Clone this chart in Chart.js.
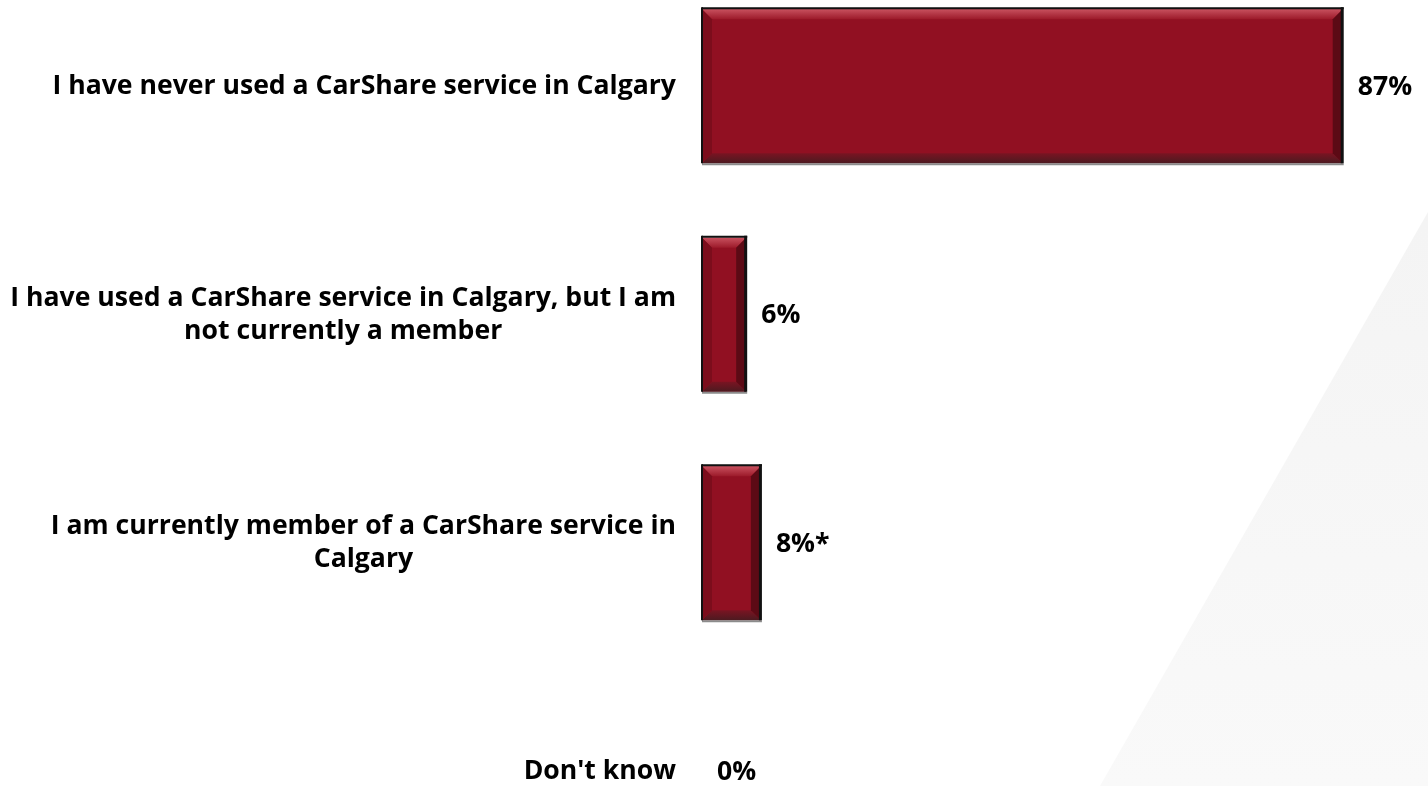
<!DOCTYPE html>
<html>
<head>
<meta charset="utf-8">
<script src="https://cdn.jsdelivr.net/npm/chart.js@4"></script>
<style>
    html, body { margin: 0; padding: 0; background: #fff; overflow: hidden; }
    body { width: 1428px; height: 786px; position: relative; }
    .backdrop {
        position: absolute; left: 0; top: 0; width: 1428px; height: 786px;
        background: linear-gradient(#f2f2f2, #f9f9f9);
        clip-path: polygon(1428px 212px, 1428px 786px, 1100px 786px);
    }
    .chart-box { position: absolute; left: 0; top: -28px; width: 1428px; height: 914px; }
</style>
</head>
<body>
<div class="backdrop"></div>
<div class="chart-box"><canvas id="usage-chart"></canvas></div>
<script>
const categories = [
    ['I have never used a CarShare service in Calgary'],
    ['I have used a CarShare service in Calgary, but I am', 'not currently a member'],
    ['I am currently member of a CarShare service in', 'Calgary'],
    ["Don't know"]
];
const percentages = [87, 6, 8, 0];
const notes = ['', '', '*', ''];

const labelFont = 'bold 26.6px "Open Sans"';
const lineHeight = 33;

// bevelled look on each bar, drawn over the flat fill
const bevelBars = {
    id: 'bevelBars',
    afterDatasetsDraw(chart) {
        const ctx = chart.ctx;
        const meta = chart.getDatasetMeta(0);
        meta.data.forEach(bar => {
            const { x, y, base, height } = bar.getProps(['x', 'y', 'base', 'height']);
            const w = x - base;
            if (w < 1) return;
            const top = y - height / 2, bottom = y + height / 2;
            const left = base, right = x;
            const d = Math.min(10, w / 2);
            ctx.save();
            // top band
            let g = ctx.createLinearGradient(0, top, 0, top + d);
            g.addColorStop(0, '#c8505e');
            g.addColorStop(1, '#9c1a2a');
            ctx.fillStyle = g;
            ctx.beginPath();
            ctx.moveTo(left, top); ctx.lineTo(right, top);
            ctx.lineTo(right - d, top + d); ctx.lineTo(left + d, top + d);
            ctx.closePath(); ctx.fill();
            // bottom band
            g = ctx.createLinearGradient(0, bottom - d, 0, bottom);
            g.addColorStop(0, '#7a1422');
            g.addColorStop(1, '#4c1a20');
            ctx.fillStyle = g;
            ctx.beginPath();
            ctx.moveTo(left, bottom); ctx.lineTo(right, bottom);
            ctx.lineTo(right - d, bottom - d); ctx.lineTo(left + d, bottom - d);
            ctx.closePath(); ctx.fill();
            // left band
            ctx.fillStyle = '#7c0d1c';
            ctx.beginPath();
            ctx.moveTo(left, top); ctx.lineTo(left + d, top + d);
            ctx.lineTo(left + d, bottom - d); ctx.lineTo(left, bottom);
            ctx.closePath(); ctx.fill();
            // right band
            ctx.fillStyle = '#5c0a15';
            ctx.beginPath();
            ctx.moveTo(right, top); ctx.lineTo(right - d, top + d);
            ctx.lineTo(right - d, bottom - d); ctx.lineTo(right, bottom);
            ctx.closePath(); ctx.fill();
            // dark outline and soft shadow under the bar
            ctx.fillStyle = '#8c8c8c';
            ctx.fillRect(left, bottom, w + 1, 2);
            ctx.fillStyle = '#111';
            ctx.fillRect(left, top - 2, w + 1, 2);
            ctx.fillRect(left - 1, top - 2, 2, height + 2);
            ctx.fillRect(right - 2, top - 2, 3, height + 2);
            ctx.restore();
        });
    }
};

// category labels left of the bars and value labels after them
const textLabels = {
    id: 'textLabels',
    afterDraw(chart) {
        const ctx = chart.ctx;
        const yScale = chart.scales.y;
        const meta = chart.getDatasetMeta(0);
        ctx.save();
        ctx.font = labelFont;
        ctx.fillStyle = '#000';
        ctx.textBaseline = 'middle';
        ctx.textAlign = 'center';
        const rightEdge = chart.chartArea.left - 26;
        categories.forEach((lines, i) => {
            const cy = yScale.getPixelForTick(i);
            const maxW = Math.max(...lines.map(l => ctx.measureText(l).width));
            const cx = rightEdge - maxW / 2;
            const startY = cy - (lines.length - 1) * lineHeight / 2;
            lines.forEach((l, j) => ctx.fillText(l, cx, startY + j * lineHeight));
        });
        ctx.textAlign = 'left';
        meta.data.forEach((bar, i) => {
            ctx.fillText(percentages[i] + '%' + notes[i], bar.x + 15, bar.y + 1);
        });
        ctx.restore();
    }
};

new Chart(document.getElementById('usage-chart'), {
    type: 'bar',
    data: {
        labels: categories,
        datasets: [{
            data: percentages,
            backgroundColor: '#911022',
            borderWidth: 0,
            barPercentage: 1,
            categoryPercentage: 0.674
        }]
    },
    options: {
        indexAxis: 'y',
        responsive: true,
        maintainAspectRatio: false,
        animation: false,
        layout: { padding: { left: 702, right: 19, top: 0, bottom: 0 } },
        scales: {
            x: { display: false, min: 0, max: 96 },
            y: { display: false }
        },
        plugins: {
            legend: { display: false },
            tooltip: { enabled: false }
        }
    },
    plugins: [bevelBars, textLabels]
});
</script>
</body>
</html>
